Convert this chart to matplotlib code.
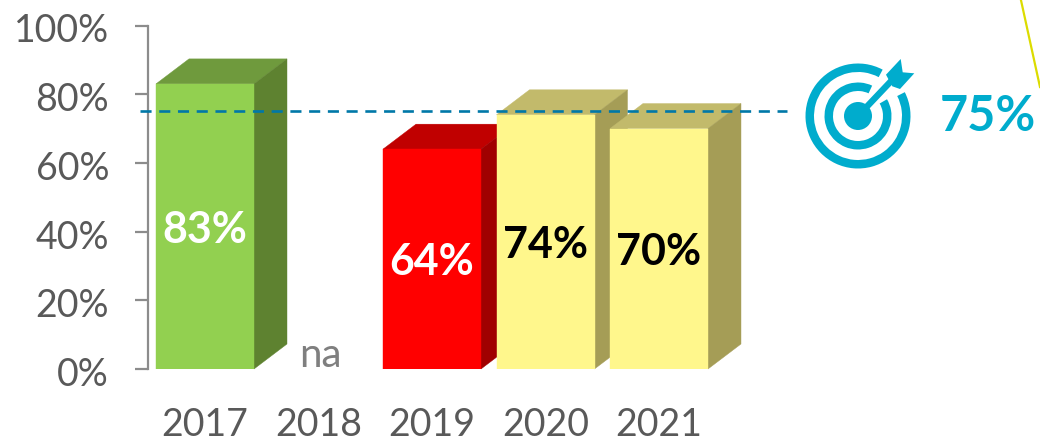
import matplotlib
matplotlib.use("Agg")
import matplotlib.pyplot as plt
from matplotlib.patches import Circle, Polygon, Wedge
from matplotlib.transforms import ScaledTranslation

years = ["2017", "2018", "2019", "2020", "2021"]
values = [83, None, 64, 74, 70]
value_labels = ["83%", "na", "64%", "74%", "70%"]
label_colors = ["white", "#7f7f7f", "white", "black", "black"]
target = 75
target_label = "75%"
y_ticks = [0, 20, 40, 60, 80, 100]
y_tick_labels = ["0%", "20%", "40%", "60%", "80%", "100%"]

front_colors = ["#92d050", None, "#ff0000", "#fff78c", "#fff78c"]
top_colors = ["#6f9a3d", None, "#c00000", "#c2ba6b", "#c2ba6b"]
side_colors = ["#5e8230", None, "#a00000", "#a59d56", "#a59d56"]

W, H = 1040, 439
FONT = "Lato"
TEAL = "#00accd"
GREY = "#595959"

fig = plt.figure(figsize=(W / 100, H / 100), dpi=100)
fig.patch.set_facecolor("white")

# main axes: 0-100% runs from y=370 to y=26.5, categories are 113.5 px apart
ax = fig.add_axes([148 / W, (H - 370) / H, (W - 148) / W, 343.5 / H])
ax.set_xlim((148 - 205) / 113.5, (W - 205) / 113.5)
ax.set_ylim(0, 100)
ax.patch.set_alpha(0)

bar_w = 98 / 113.5
dx = 33 / 113.5
dy = 25 / 3.435

# pseudo 3d bars, drawn left to right so later bars cover earlier sides
for i, v in enumerate(values):
    if v is None:
        continue
    l, r = i - bar_w / 2, i + bar_w / 2
    ax.add_patch(Polygon([(l, v), (r, v), (r + dx, v + dy), (l + dx, v + dy)],
                         fc=top_colors[i], ec=top_colors[i], lw=0.3, clip_on=False, zorder=2 + i))
    ax.add_patch(Polygon([(r, 0), (r + dx, dy), (r + dx, v + dy), (r, v)],
                         fc=side_colors[i], ec=side_colors[i], lw=0.3, clip_on=False, zorder=2 + i))
    ax.bar(i, v, width=bar_w, color=front_colors[i], edgecolor=front_colors[i], linewidth=0.3, zorder=2 + i)

for i, txt in enumerate(value_labels):
    if values[i] is None:
        ax.text(i + 0.02, 4.3, txt, color=label_colors[i], fontsize=29, family=FONT,
                ha="center", va="center", zorder=10)
    else:
        ax.annotate(txt, (i, values[i] / 2), xytext=(0, -1.5), textcoords="offset points",
                    color=label_colors[i], fontsize=31, family=FONT,
                    fontweight="bold", ha="center", va="center", zorder=10)

# target line
x_end = (787 - 205) / 113.5
x_start = (140 - 205) / 113.5
ax.plot([x_start, x_end], [target, target], color="#0078a8", lw=1.9,
        dashes=(4.2, 2.9), clip_on=False, zorder=9)

for s in ["top", "right", "bottom"]:
    ax.spines[s].set_visible(False)
ax.spines["left"].set_color("#8c8c8c")
ax.spines["left"].set_linewidth(1.6)
ax.set_yticks(y_ticks)
ax.set_yticklabels(y_tick_labels, fontsize=27, color=GREY, family=FONT)
ax.tick_params(axis="y", length=9.5, width=1.6, color="#8c8c8c", pad=18.5)
ax.set_xticks(range(len(years)))
ax.set_xticklabels(years, fontsize=27, color=GREY, family=FONT)
ax.tick_params(axis="x", length=0, pad=26.5)

# nudge the y labels down a little against their ticks
for lab in ax.get_yticklabels():
    lab.set_transform(lab.get_transform() + ScaledTranslation(0, -1.5 / 100, fig.dpi_scale_trans))

# overlay in pixel coordinates for the target icon and the corner stroke
ov = fig.add_axes([0, 0, 1, 1])
ov.set_xlim(0, W)
ov.set_ylim(H, 0)
ov.axis("off")

cx, cy = 858, 117
# y axis is flipped here, so wedge angles run clockwise on screen
ov.add_patch(Wedge((cx, cy), 52.5, -27, -62 + 360, width=8.5, fc=TEAL, ec="none"))
ov.add_patch(Wedge((cx, cy), 33.5, -30, -65 + 360, width=8.5, fc=TEAL, ec="none"))
ov.add_patch(Circle((cx, cy), 14, fc=TEAL, ec="none"))
ov.plot([cx, 894], [cy, 79], color=TEAL, lw=4.6, solid_capstyle="butt")
ov.add_patch(Polygon([(886, 75.7), (900.7, 60), (902.7, 73.3), (914.3, 74.3), (900, 90), (892.3, 87.3)],
                     fc=TEAL, ec="none"))
ov.text(988, 117, target_label, color=TEAL, fontsize=35, family=FONT, fontweight="bold",
        ha="center", va="center")

ov.plot([1020.5, 1040], [-1, 88], color="#dcdc00", lw=1.6)

fig.savefig("out.png", dpi=100)
